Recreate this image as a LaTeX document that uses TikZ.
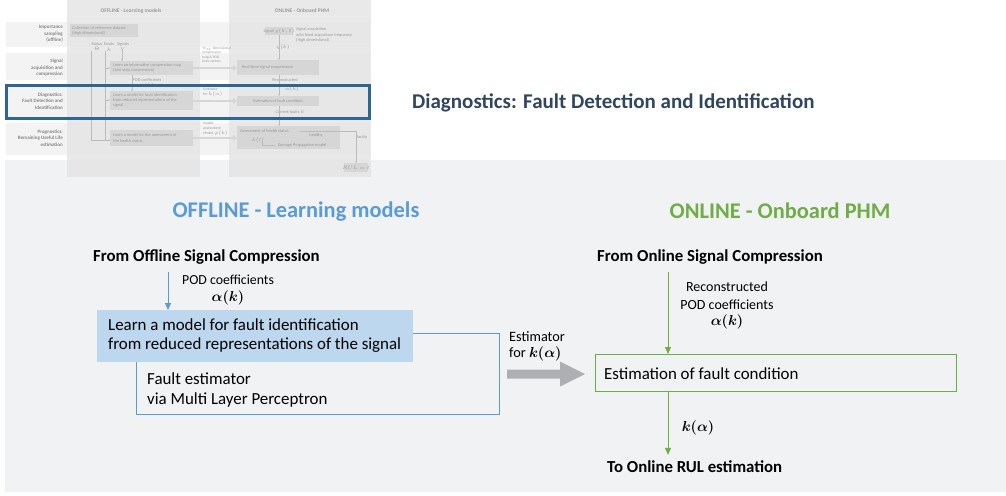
\documentclass[tikz,border=0pt]{standalone}
\usepackage{fontspec}
\setmainfont{Carlito}
\usepackage{amsmath}
\usepackage{bm}
\usetikzlibrary{arrows.meta,calc}
\definecolor{offblue}{HTML}{5B9BD5}
\definecolor{ongreen}{HTML}{70AD47}
\definecolor{lightblue}{HTML}{BDD7EE}
\definecolor{panelgray}{HTML}{F1F2F4}
\definecolor{titlecol}{HTML}{2F4560}
\definecolor{arrowgray}{HTML}{AEAFB2}
\definecolor{frameblue}{HTML}{2D6594}
\definecolor{thband}{HTML}{F3F3F3}
\definecolor{thcol}{HTML}{E4E4E4}
\definecolor{thbox}{HTML}{D6D6D6}
\definecolor{thtext}{HTML}{9A9A9A}
\definecolor{thdark}{HTML}{858585}
\definecolor{thline}{HTML}{BBBBBB}
\newcommand{\mak}{$\bm{\alpha(k)}$}
\newcommand{\mka}{$\bm{k(\alpha)}$}
\tikzset{
  fs/.style={font=\fontsize{#1}{#1}\selectfont},
  bigbold/.style={font=\bfseries\fontsize{#1}{#1}\selectfont},
  plain/.style={inner sep=0pt, anchor=west},
  thtxt/.style={inner sep=0pt, text=thtext, font=\fontsize{4.3}{5.2}\selectfont, align=left},
  thlbl/.style={inner sep=0pt, text=thdark, font=\bfseries\fontsize{5}{6.6}\selectfont, align=right, anchor=east},
  thl/.style={draw=thline, line width=0.4pt},
  tharr/.style={draw=thline, line width=0.4pt, -{Triangle[length=1.5pt,width=1.5pt]}},
  thbig/.style={draw=thbox, line width=2.5pt, -{Triangle[length=4pt,width=6pt]}},
  bluearr/.style={draw=offblue, line width=1pt, -{Triangle[length=7pt,width=6pt]}},
  greenarr/.style={draw=ongreen, line width=1pt, -{Triangle[length=7pt,width=6pt]}},
}
\begin{document}
\begin{tikzpicture}[x=1pt,y=-1pt]
\useasboundingbox (0,0) rectangle (1006,495);
% main panel
\fill[panelgray] (5,160) rectangle (1006,492);

% ===== thumbnail =====
\foreach \a/\b in {22/47,53/80,87/118,123/155}
  \fill[thband] (6,\a) rectangle (370,\b);
\fill[thcol, opacity=0.8] (67,0) rectangle (200,177);
\fill[thcol, opacity=0.8] (229,0) rectangle (371,177);
\node[inner sep=0pt, text=thtext, font=\bfseries\fontsize{5.5}{6}\selectfont] (thoff) at (131,11) {OFFLINE - Learning models};
\node[inner sep=0pt, text=thtext, font=\bfseries\fontsize{5.5}{6}\selectfont] (thon) at (302,11) {ONLINE - Onboard PHM};
\node[thlbl] (l1) at (63,34) {Importance\\sampling\\(offline)};
\node[thlbl] (l2) at (63,68) {Signal\\acquisition and\\compression};
\node[thlbl] (l3) at (63,101) {Diagnostics:\\Fault Detection and\\Identification};
\node[thlbl] (l4) at (63,138) {Prognostics:\\Remaining Useful Life\\estimation};
% offline boxes
\fill[thbox] (70,24) rectangle (138,37);
\node[thtxt, anchor=west] (tcol) at (72,30.5) {Collection of reference dataset\\(High dimensional)};
\node[thtxt, align=center] (tst) at (97,47) {Status\\$\Theta$};
\node[thtxt, align=center] (tfa) at (109,47) {Faults\\$k$};
\node[thtxt, align=center] (tsi) at (123,47) {Signals\\$Y$};
\fill[thbox] (110,61) rectangle (193,75);
\node[thtxt, anchor=west] (tcmp) at (113,68) {Learn an informative compression map\\(two-step compression)};
\node[thtxt, align=center] (tpod) at (147,83) {POD coefficients\\$\alpha(k)$};
\fill[thbox] (110,91) rectangle (193,110);
\node[thtxt, anchor=west] (tfid) at (113,100.5) {Learn a model for fault identification\\from reduced representations of the\\signal};
\fill[thbox] (110,130) rectangle (193,146);
\node[thtxt, anchor=west] (thlt) at (113,138) {Learn a model for the assessment of\\the health status};
\draw[thl] (91,51) -- (91,140) -- (110,140);
\draw[thl] (105,51) -- (105,140);
\draw[tharr] (105,68) -- (110,68);
\draw[tharr] (105,100) -- (110,100);
\draw[tharr] (105,140) -- (110,140);
\draw[tharr] (122,51) -- (122,61);
\draw[tharr] (132,75) -- (132,91);
% big gray arrows
\draw[thbig] (193,68) -- (237,68);
\draw[thbig] (193,101) -- (237,101);
\draw[thbig] (193,138) -- (237,138);
\node[thtxt, anchor=north west, font=\fontsize{3.6}{4.3}\selectfont] (tmap) at (202,47) {$n_\alpha$-dimensional\\compression\\map \& POD\\basis vectors};
\node[thtxt, anchor=north west, font=\fontsize{3.8}{4.6}\selectfont] (test) at (203,88) {Estimator\\for $k(\alpha)$};
\node[thtxt, anchor=north west, font=\fontsize{3.8}{4.6}\selectfont] (tham) at (203,122) {Health\\assessment\\Model $\varphi(k)$};
% online boxes
\fill[thbox] (265,27) rectangle (293,35);
\node[thtxt] (tsig) at (279,31) {Signal $y(k,t)$};
\node[thtxt, anchor=west] (tsigt) at (296,35) {Signal acquisition\\with fixed acquisition frequency\\(High dimensional)};
\node[thtxt] (tyk) at (283,47) {$y(k)$};
\draw[tharr] (279,35) -- (279,60);
\fill[thbox] (237,60) rectangle (319,75);
\node[thtxt, anchor=west] (trts) at (242,67.5) {Real-time signal compression};
\node[thtxt] (trec) at (285,80) {Reconstructed};
\node[thtxt] (tak) at (292,89) {$\alpha(k)$};
\draw[tharr] (279,75) -- (279,96);
\fill[thbox] (237,96) rectangle (319,106);
\node[thtxt] (tefc) at (278,101) {Estimation of fault condition};
\node[thtxt] (tcur) at (290,112) {Current faults $k$};
\draw[tharr] (279,106) -- (279,126);
\fill[thbox] (237,126) rectangle (340,149);
\node[thtxt, anchor=west] (tahs) at (240,131) {Assessment of health status};
\node[thtxt] (tkt) at (258,140) {$k(t)$};
\node[thtxt] (thea) at (316,135) {healthy};
\node[thtxt] (tdam) at (302,145) {Damage Propagation model};
\node[thtxt] (tfau) at (362,137) {faulty};
\draw[thl] (300,131) -- (356,131);
\draw[tharr] (356,131) -- (356,163);
\draw[thl] (275,145) -- (262,145) -- (262,141);
\fill[thbox] (344,163) rectangle (368,172);
\node[thtxt] (trul) at (356,167.5) {$RUL=t$};
% highlight frame
\draw[frameblue, line width=3pt] (6,85) rectangle (369,118);

% ===== title =====
\node[plain, bigbold=21, text=titlecol] (title) at (412,103) {Diagnostics: Fault Detection and Identification};

% ===== OFFLINE side =====
\node[inner sep=0pt, bigbold=22.4, text=offblue] (offh) at (296,212) {OFFLINE - Learning models};
\node[plain, bigbold=16.8] (fromoff) at (93,257) {From Offline Signal Compression};
\node[draw=offblue, line width=0.8pt, anchor=north west, minimum width=363pt, minimum height=81pt, inner sep=0pt] (estbox) at (136,333) {};
\node[fill=lightblue, anchor=north west, minimum width=316pt, minimum height=52pt, inner sep=0pt] (learn) at (97,310) {};
\node[plain, align=left, font=\fontsize{16.9}{19}\selectfont] (learnt) at (108,335.5) {Learn a model for fault identification\\from reduced representations of the signal};
\node[plain, align=left, font=\fontsize{16.9}{20}\selectfont] (estt) at (147,390) {Fault estimator\\via Multi Layer Perceptron};
\coordinate (xoff) at (168,0);
\draw[bluearr] ($(fromoff.south -| xoff)+(0,7)$) -- (learn.north -| xoff);
\node[plain, fs=13.8] (pod) at (182,280) {POD coefficients};
\node[inner sep=0pt, fs=14] (podak) at (228,298) {\mak};

% ===== transfer arrow =====
\node[plain, align=left, font=\fontsize{14.3}{16}\selectfont] (estim) at (509,346) {Estimator\\for {\fontsize{14}{16}\selectfont\mka}};
\coordinate (ga) at (507,374);
\coordinate (gb) at (585,374);
\fill[arrowgray] ($(ga)+(0,-4.5)$) -- ++(53,0) -- ++(0,-8) -- (gb) -- ++(-25,12.5) -- ++(0,-8) -- ($(ga)+(0,4.5)$) -- cycle;

% ===== ONLINE side =====
\node[inner sep=0pt, bigbold=22.4, text=ongreen] (onh) at (780,211) {ONLINE - Onboard PHM};
\node[plain, bigbold=16.8] (fromon) at (597,257) {From Online Signal Compression};
\node[draw=ongreen, line width=1pt, anchor=north west, minimum width=361pt, minimum height=37pt, inner sep=0pt] (efc) at (595,354) {};
\node[plain, fs=16.9] (efct) at (604,374) {Estimation of fault condition};
\coordinate (xon) at (668,0);
\draw[greenarr] ($(fromon.south -| xon)+(0,7)$) -- (efc.north -| xon);
\node[inner sep=0pt, align=center, font=\fontsize{14}{17.5}\selectfont] (recon) at (727,305.5) {Reconstructed\\POD coefficients\\[-1pt]{\fontsize{14}{16}\selectfont\mak}};
\node[plain, bigbold=16.8] (toon) at (607,467) {To Online RUL estimation};
\draw[greenarr] (efc.south -| xon) -- ($(toon.north -| xon)+(0,-6)$);
\node[inner sep=0pt, fs=14] (kal) at (698,428) {\mka};
\end{tikzpicture}
\end{document}
